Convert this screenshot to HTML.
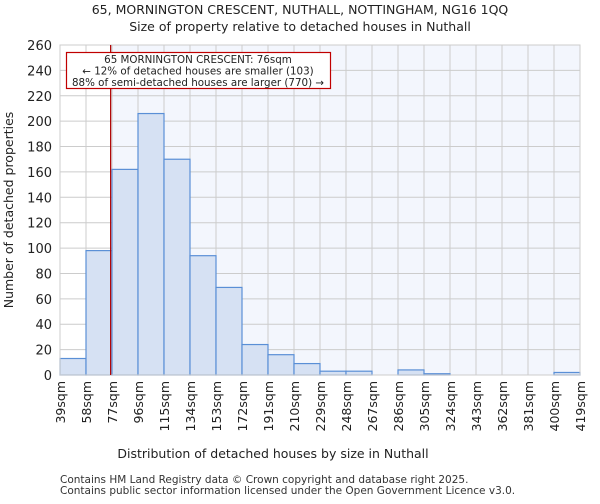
<!DOCTYPE html>
<html><head><meta charset="utf-8"><style>
body{margin:0;background:#fff;font-family:"DejaVu Sans","Liberation Sans",sans-serif}
</style></head><body>
<svg width="600" height="500" xmlns="http://www.w3.org/2000/svg" font-family="DejaVu Sans, Liberation Sans, sans-serif">
<text x="300" y="14" text-anchor="middle" font-size="12.5" fill="#222">65, MORNINGTON CRESCENT, NUTHALL, NOTTINGHAM, NG16 1QQ</text>
<text x="300" y="31" text-anchor="middle" font-size="12.5" fill="#222">Size of property relative to detached houses in Nuthall</text>
<g id="plot"></g>
<text x="273" y="458" text-anchor="middle" font-size="12.5" fill="#222">Distribution of detached houses by size in Nuthall</text>
<text transform="translate(13,210) rotate(-90)" text-anchor="middle" font-size="12.5" fill="#222">Number of detached properties</text>
<text x="60" y="483" font-size="10.5" fill="#333">Contains HM Land Registry data © Crown copyright and database right 2025.</text>
<text x="60" y="494" font-size="10.5" fill="#333">Contains public sector information licensed under the Open Government Licence v3.0.</text>
</svg>
<script>
const binLabels=["39sqm","58sqm","77sqm","96sqm","115sqm","134sqm","153sqm","172sqm","191sqm","210sqm","229sqm","248sqm","267sqm","286sqm","305sqm","324sqm","343sqm","362sqm","381sqm","400sqm","419sqm"];
const binStarts=[39,58,77,96,115,134,153,172,191,210,229,248,267,286,305,324,343,362,381,400,419];
const counts=[13,98,162,206,170,94,69,24,16,9,3,3,0,4,1,0,0,0,0,2];
const yTicks=[0,20,40,60,80,100,120,140,160,180,200,220,240,260];
const markerValue=76;
const NS="http://www.w3.org/2000/svg";
const L=60,R=580,T=45,B=375;
const x=v=>L+(v-binStarts[0])/(binStarts[binStarts.length-1]-binStarts[0])*(R-L);
const y=v=>B-v/260*(B-T);
const g=document.getElementById('plot');
function mk(t,a,p){const e=document.createElementNS(NS,t);for(const k in a)e.setAttribute(k,a[k]);(p||g).appendChild(e);return e;}
const bg=mk('rect',{x:x(markerValue),y:T,width:R-x(markerValue),height:B-T,fill:'#f3f6fd'});


yTicks.forEach(t=>{
 const l=mk('line',{x1:L,x2:R,y1:y(t),y2:y(t),stroke:'#ccc','stroke-width':1});
 
 
 const tx=mk('text',{x:L-8,y:y(t)+5,'text-anchor':'end','font-size':13,fill:'#222'});
 tx.textContent=t;
 
 
});
binStarts.forEach((b,i)=>{
 const l=mk('line',{x1:x(b),x2:x(b),y1:T,y2:B,stroke:'#ccc','stroke-width':1});
 
 
 const tx=mk('text',{transform:`translate(${x(b)+5},381) rotate(-90)`,'text-anchor':'end','font-size':12.5,fill:'#222'});
 tx.textContent=binLabels[i];
 
 
});
counts.forEach((c,i)=>{
 const x0=x(binStarts[i]),x1=x(binStarts[i+1]);
 const r=mk('rect',{x:x0,y:y(c),width:x1-x0,height:B-y(c),fill:'#d6e1f3',stroke:'#5a8fd6','stroke-width':1.2});
 
 
});
const ax=mk('rect',{x:L,y:T,width:R-L,height:B-T,fill:'none',stroke:'#ccc'});


const ml=mk('line',{x1:x(markerValue),x2:x(markerValue),y1:T,y2:B,stroke:'#b00000','stroke-width':1.2});


const box=mk('rect',{x:66.5,y:52.5,width:264,height:36,fill:'#fff',stroke:'#c00000','stroke-width':1.2});


["65 MORNINGTON CRESCENT: 76sqm","← 12% of detached houses are smaller (103)","88% of semi-detached houses are larger (770) →"].forEach((s,i)=>{
 const t=mk('text',{x:198,y:63+i*11.5,'text-anchor':'middle','font-size':10.3,fill:'#222'});
 t.textContent=s;
 
 
});
</script>
</body></html>
